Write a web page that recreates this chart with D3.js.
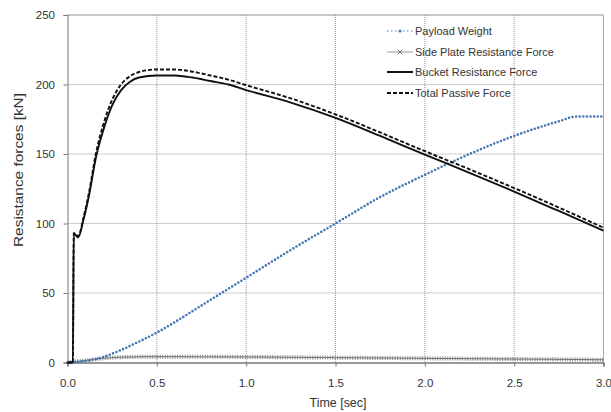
<!DOCTYPE html>
<html>
<head>
<meta charset="UTF-8" />
<title>Resistance forces</title>
<script src="https://d3js.org/d3.v7.min.js"></script>
<style>
body { margin: 0; background: #fff; }
svg text { font-family: "Liberation Sans", Arial, sans-serif; fill: #333; }
</style>
</head>
<body>
<svg id="chart" width="611" height="412"></svg>
<script>
// data
var payloadTime = [0, 0.1, 0.2, 0.3, 0.4, 0.5, 0.6, 0.7, 0.8, 0.9, 1.0, 1.25, 1.5, 1.75, 2.0, 2.25, 2.5, 2.75, 2.85, 3.0];
var payloadWeight = [0, 1, 4, 9, 15, 21.5, 29, 37, 45, 53, 61, 81, 100, 119, 135, 150, 163, 173.5, 177, 177];

var sideTime = [0, 0.1, 0.2, 0.3, 0.5, 1.0, 1.5, 2.0, 2.5, 3.0];
var sidePlate = [0, 1.5, 3, 3.8, 4.2, 4, 3.5, 3, 2.5, 2];

var bucketTime = [0, 0.03, 0.035, 0.05, 0.06, 0.09, 0.12, 0.16, 0.2, 0.25, 0.3, 0.35, 0.4, 0.5, 0.6, 0.7, 0.8, 0.9, 1.0, 1.25, 1.5, 1.75, 2.0, 2.25, 2.5, 2.75, 3.0];
var bucketForce = [0, 0, 93, 91, 90, 103, 120, 148, 167, 185, 196, 202, 205, 206.5, 206.5, 205, 202.5, 200, 196, 187, 176, 163, 149.5, 136.5, 123, 109, 94.8];
var totalPassive = [0, 0, 93, 91.5, 91, 104.5, 122, 151, 171, 189, 200, 206, 209, 210.8, 210.8, 209.2, 206.5, 203.5, 199.5, 190, 178.5, 165.5, 152, 139, 125.5, 111.5, 97];

var xTicks = [0, 0.5, 1.0, 1.5, 2.0, 2.5, 3.0];
var yTicks = [0, 50, 100, 150, 200, 250];
var seriesNames = ["Payload Weight", "Side Plate Resistance Force", "Bucket Resistance Force", "Total Passive Force"];

var svg = d3.select("#chart");
var m = {top: 15, right: 7.5, bottom: 49.5, left: 67.5};
var W = 611, H = 412;

var x = d3.scaleLinear().domain([0, 3]).range([m.left, W - m.right]);
var y = d3.scaleLinear().domain([0, 250]).range([H - m.bottom, m.top]);

function pts(t, v) { return t.map(function(d, i) { return [d, v[i]]; }); }
var line = d3.line().x(function(d) { return x(d[0]); }).y(function(d) { return y(d[1]); }).curve(d3.curveMonotoneX);

// grid
var grid = svg.append("g");
grid.selectAll("line.h").data(yTicks.slice(1)).enter().append("line")
    .attr("x1", m.left).attr("x2", W - m.right)
    .attr("y1", function(d) { return y(d); }).attr("y2", function(d) { return y(d); })
    .attr("stroke", "#999").attr("stroke-dasharray", "1,1");
grid.selectAll("line.v").data(xTicks.slice(1)).enter().append("line")
    .attr("y1", m.top).attr("y2", H - m.bottom)
    .attr("x1", function(d) { return x(d); }).attr("x2", function(d) { return x(d); })
    .attr("stroke", "#999").attr("stroke-dasharray", "1,1");
// frame top/right
svg.append("line").attr("x1", m.left).attr("x2", W - m.right).attr("y1", m.top).attr("y2", m.top).attr("stroke", "#aaa");
svg.append("line").attr("x1", W - m.right).attr("x2", W - m.right).attr("y1", m.top).attr("y2", H - m.bottom).attr("stroke", "#aaa");

// axes
var xAxis = svg.append("g").attr("transform", "translate(0," + (H - m.bottom) + ")")
    .call(d3.axisBottom(x).tickValues(xTicks).tickFormat(d3.format(".1f")).tickSize(4).tickPadding(12));
var yAxis = svg.append("g").attr("transform", "translate(" + m.left + ",0)")
    .call(d3.axisLeft(y).tickValues(yTicks).tickSize(4).tickPadding(8.5));
[xAxis, yAxis].forEach(function(a) {
  a.select(".domain").attr("stroke", "#777");
  a.selectAll(".tick line").attr("stroke", "#777");
  a.selectAll("text").attr("font-size", 11.5).attr("fill", "#333");
});
xAxis.select(".domain").attr("stroke", "#333");

svg.append("text").attr("x", 338).attr("y", 407)
   .attr("text-anchor", "middle").attr("font-size", 13)
   .attr("textLength", 57).attr("lengthAdjust", "spacingAndGlyphs").text("Time [sec]");
svg.append("text").attr("transform", "translate(23,170) rotate(-90)")
   .attr("text-anchor", "middle").attr("font-size", 13.5)
   .attr("textLength", 154).attr("lengthAdjust", "spacingAndGlyphs").text("Resistance forces [kN]");

// series
var plot = svg.append("g");
plot.append("path").datum(pts(sideTime, sidePlate)).attr("d", line)
    .attr("fill", "none").attr("stroke", "#666").attr("stroke-width", 1);
plot.append("path").datum(pts(sideTime, sidePlate)).attr("d", line)
    .attr("fill", "none").attr("stroke", "#888").attr("stroke-width", 4).attr("stroke-dasharray", "1,1.5");
plot.append("path").datum(pts(payloadTime, payloadWeight)).attr("d", line)
    .attr("fill", "none").attr("stroke", "#4677b5").attr("stroke-width", 2.6)
    .attr("stroke-linecap", "round").attr("stroke-dasharray", "0,3.6");
plot.append("path").datum(pts(bucketTime, bucketForce)).attr("d", line)
    .attr("fill", "none").attr("stroke", "#111").attr("stroke-width", 1.9);
plot.append("path").datum(pts(bucketTime, totalPassive)).attr("d", line)
    .attr("fill", "none").attr("stroke", "#111").attr("stroke-width", 1.9).attr("stroke-dasharray", "4,2");

// legend
var lg = svg.append("g");
var ly = [31, 52, 72, 93];
seriesNames.forEach(function(name, i) {
  var g = lg.append("g").attr("transform", "translate(0," + ly[i] + ")");
  var l = g.append("line").attr("x1", 387).attr("x2", 413).attr("y1", 0).attr("y2", 0);
  if (i === 0) {
    l.attr("stroke", "#4a7ebb").attr("stroke-width", 1.2).attr("stroke-dasharray", "1.5,2.5");
    g.append("circle").attr("cx", 400).attr("cy", 0).attr("r", 1.6).attr("fill", "#4a7ebb");
  } else if (i === 1) {
    l.attr("stroke", "#999").attr("stroke-width", 1);
    g.append("path").attr("d", d3.symbol(d3.symbolTimes, 14)()).attr("transform", "translate(400,0)")
     .attr("fill", "none").attr("stroke", "#777").attr("stroke-width", 1);
  } else if (i === 2) {
    l.attr("stroke", "#111").attr("stroke-width", 2);
  } else {
    l.attr("stroke", "#111").attr("stroke-width", 2).attr("stroke-dasharray", "4,2");
  }
  g.append("text").attr("x", 415).attr("y", 4).attr("font-size", 11).text(name);
});
</script>
</body>
</html>
